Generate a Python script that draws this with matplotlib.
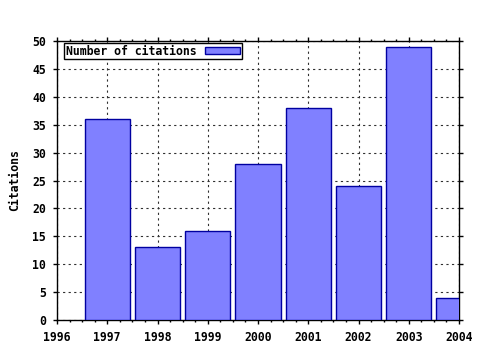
import matplotlib
matplotlib.use("Agg")
import matplotlib.pyplot as plt
from matplotlib.ticker import MultipleLocator

years = [1997, 1998, 1999, 2000, 2001, 2002, 2003, 2004]
citations = [36, 13, 16, 28, 38, 24, 49, 4]
xticks = [1996, 1997, 1998, 1999, 2000, 2001, 2002, 2003, 2004]
yticks = [0, 5, 10, 15, 20, 25, 30, 35, 40, 45, 50]

plt.rcParams['font.family'] = ['DejaVu Sans Mono']
plt.rcParams['font.weight'] = 'bold'
FS = 8.3

fig = plt.figure(figsize=(4.8, 3.5), dpi=100)
ax = fig.add_axes([57/480, 1-320/350, (459-57)/480, (320-41)/350])

ax.bar(years, citations, width=0.9, color='#8080ff', edgecolor='#0000a0',
       linewidth=1.0, label='Number of citations', zorder=3)

ax.set_xlim(1996, 2004)
ax.set_ylim(0, 50)
ax.set_xticks(xticks)
ax.set_xticklabels([str(x) for x in xticks])
ax.set_yticks(yticks)
ax.grid(True, linestyle=(0, (2, 3)), color='#303030', linewidth=0.8, zorder=0)
ax.tick_params(direction='out', length=3, width=1, top=True, right=True,
               labelsize=FS, pad=5)
ax.xaxis.set_minor_locator(MultipleLocator(0.25))
ax.tick_params(which='minor', direction='out', length=1.5, width=1, top=True)
for s in ax.spines.values():
    s.set_linewidth(1.0)
for lab in ax.get_xticklabels() + ax.get_yticklabels():
    lab.set_fontweight('bold')

ax.set_ylabel('Citations', fontsize=FS, fontweight='bold', labelpad=8)

leg = ax.legend(loc='upper left', markerfirst=False, fancybox=False,
                edgecolor='black', framealpha=1, fontsize=FS,
                borderpad=0.15, handlelength=3.0, handleheight=0.55,
                handletextpad=0.8, borderaxespad=0,
                bbox_to_anchor=(0.017, 0.993))
leg.get_frame().set_linewidth(1.0)
for t in leg.get_texts():
    t.set_fontweight('bold')

fig.savefig('out.png', dpi=100)
